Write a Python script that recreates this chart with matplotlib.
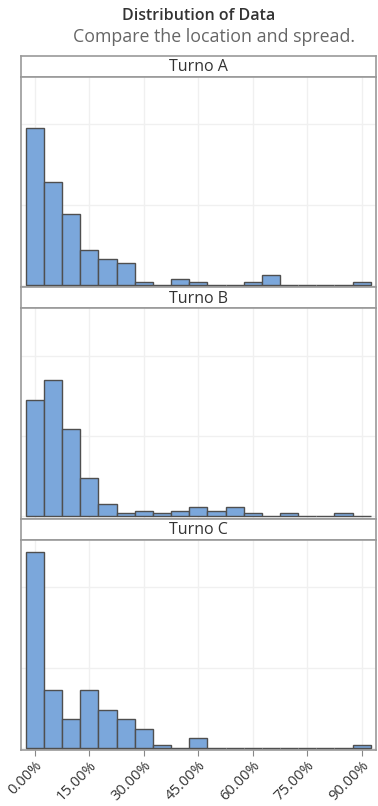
import matplotlib
matplotlib.use("Agg")
import matplotlib.pyplot as plt
from matplotlib.ticker import FixedLocator

plt.rcParams['font.family'] = ['Open Sans', 'DejaVu Sans']

# Bin centres (percent) and share of each group falling in each bin (percent)
bin_centers = [0, 5, 10, 15, 20, 25, 30, 35, 40, 45, 50, 55, 60, 65, 70, 75, 80, 85, 90]
bin_width = 5
groups = ["Turno A", "Turno B", "Turno C"]
pct_a = [35.6, 23.2, 16.0, 7.9, 5.8, 4.9, 0.7, 0.0, 1.3, 0.7, 0.0, 0.0, 0.7, 2.2, 0.0, 0.0, 0.0, 0.0, 0.7]
pct_b = [26.3, 30.8, 19.7, 8.8, 2.8, 0.7, 1.3, 0.7, 1.3, 2.2, 1.3, 2.2, 0.7, 0.0, 0.7, 0.0, 0.0, 0.7, 0.0]
pct_c = [44.4, 13.1, 6.5, 13.1, 8.6, 6.5, 4.4, 0.7, 0.0, 2.3, 0.0, 0.0, 0.0, 0.0, 0.0, 0.0, 0.0, 0.0, 0.7]
series = [pct_a, pct_b, pct_c]

x_ticks = [0, 15, 30, 45, 60, 75, 90]
x_tick_labels = ["0.00%", "15.00%", "30.00%", "45.00%", "60.00%", "75.00%", "90.00%"]
y_grid = [0, 18.18, 36.36]

W, H = 378, 806
fig = plt.figure(figsize=(W / 100, H / 100), dpi=100)

frame_col = "#9a9a9a"
bar_col = "#7ba7db"
edge_col = "#4f4f4f"
grid_col = "#f0f0f0"

left, right = 20.7, 375.5
strip_h = 21.0
plot_h = 210.5
top0 = 55.7
pitch = strip_h + plot_h

fig.text(198.5 / W, 1 - 16 / H, "Distribution of Data", ha="center", va="center",
         fontsize=11.5, fontweight="semibold", color="#333333")
fig.text(214 / W, 1 - 37 / H, "Compare the location and spread.", ha="center", va="center",
         fontsize=12.8, color="#666666")

for i, (name, vals) in enumerate(zip(groups, series)):
    strip_top = top0 + i * pitch
    plot_top = strip_top + strip_h
    plot_bot = plot_top + plot_h

    sax = fig.add_axes([left / W, 1 - plot_top / H, (right - left) / W, strip_h / H])
    sax.set_xticks([])
    sax.set_yticks([])
    for sp in sax.spines.values():
        sp.set_color(frame_col)
        sp.set_linewidth(1.2)
    sax.text(0.5, 0.45, name, ha="center", va="center", fontsize=11.5,
             fontweight="medium", color="#333333", transform=sax.transAxes)

    ax = fig.add_axes([left / W, 1 - plot_bot / H, (right - left) / W, plot_h / H])
    ax.bar(bin_centers, vals, width=bin_width, color=bar_col, edgecolor=edge_col,
           linewidth=1.0, zorder=3)
    ax.set_xlim(-3.9, 93.8)
    ax.set_ylim(-0.5, 47.1)
    ax.xaxis.set_major_locator(FixedLocator(x_ticks))
    ax.yaxis.set_major_locator(FixedLocator(y_grid))
    ax.grid(True, color=grid_col, linewidth=1.0, zorder=0)
    ax.set_axisbelow(True)
    ax.tick_params(axis="y", left=False, labelleft=False)
    for sp in ax.spines.values():
        sp.set_color(frame_col)
        sp.set_linewidth(1.2)
    if i < 2:
        ax.tick_params(axis="x", bottom=False, labelbottom=False)
    else:
        ax.tick_params(axis="x", direction="out", length=4, width=0.8, color="#888888",
                       labelsize=10.5, labelcolor="#333333", pad=2)
        ax.set_xticklabels(x_tick_labels, rotation=45, ha="right", rotation_mode="anchor")

fig.savefig("out.png", dpi=100)
